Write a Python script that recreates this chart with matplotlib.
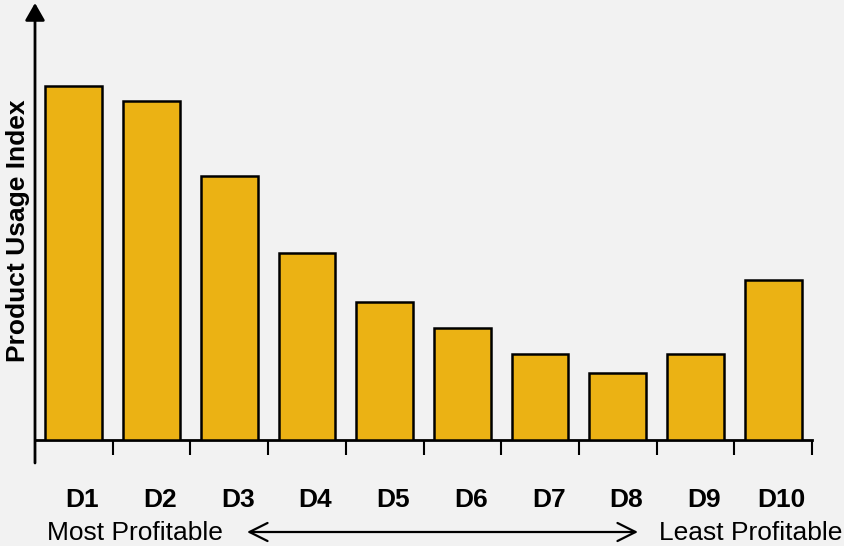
import matplotlib
matplotlib.use("Agg")
import matplotlib.pyplot as plt
import matplotlib.transforms as mtransforms
from matplotlib.patches import FancyArrowPatch

categories = ["D1", "D2", "D3", "D4", "D5", "D6", "D7", "D8", "D9", "D10"]
usage_index = [354, 339, 264.5, 187, 138, 112, 86, 67, 86, 160]
y_label = "Product Usage Index"
left_note = "Most Profitable"
right_note = "Least Profitable"

BG = "#F2F2F2"
BAR = "#EBB214"
W, H = 844, 546

plt.rcParams["font.family"] = ["Liberation Sans", "DejaVu Sans"]

fig = plt.figure(figsize=(W / 100, H / 100), dpi=100, facecolor=BG)
ax_left, ax_right, ax_bottom, ax_top = 35, 812, 440, 3
ax = fig.add_axes([ax_left / W, (H - ax_bottom) / H,
                   (ax_right - ax_left) / W, (ax_bottom - ax_top) / H])
ax.set_facecolor(BG)

x = list(range(len(categories)))
ax.bar(x, usage_index, width=0.73, color=BAR, edgecolor="black", linewidth=1.8, zorder=3)

ax.set_xlim(-0.5, len(categories) - 0.5)
ax.set_ylim(0, ax_bottom - ax_top)

for s in ["top", "right", "left"]:
    ax.spines[s].set_visible(False)
ax.spines["bottom"].set_linewidth(2)
ax.set_yticks([])
ax.set_xticks([i + 0.5 for i in x])
ax.set_xticklabels([])
ax.tick_params(axis="x", length=10.5, width=1.5, direction="out", color="black")

# y axis with arrow head, extending below x axis
ax.annotate("", xy=(0, 1), xycoords="axes fraction",
            xytext=(0, -23 / (ax_bottom - ax_top)), textcoords="axes fraction",
            arrowprops=dict(arrowstyle="-|>,head_length=1.05,head_width=0.6",
                            lw=2, color="black", mutation_scale=10,
                            shrinkA=0, shrinkB=0),
            annotation_clip=False)

# category labels
trans = mtransforms.blended_transform_factory(ax.transData, fig.transFigure)
for i, c in zip(x, categories):
    ax.text(i + 0.11, (H - 507) / H, c, transform=trans, ha="center", va="baseline",
            fontsize=19, fontweight="bold")

fig.text(18 / W, (H - 231) / H, y_label, rotation=90, ha="center", va="center",
         fontsize=19, fontweight="bold")

fig.text(134.5 / W, (H - 540) / H, left_note, ha="center", va="baseline", fontsize=19)
fig.text(842 / W, (H - 540) / H, right_note, ha="right", va="baseline", fontsize=19)

fig.patches.append(FancyArrowPatch(
    (247 / W, (H - 532) / H), (638 / W, (H - 532) / H), transform=fig.transFigure,
    arrowstyle="<->,head_length=1.3,head_width=0.65", mutation_scale=10,
    lw=1.6, color="black", shrinkA=0, shrinkB=0))

fig.savefig("out.png", dpi=100, facecolor=BG)
